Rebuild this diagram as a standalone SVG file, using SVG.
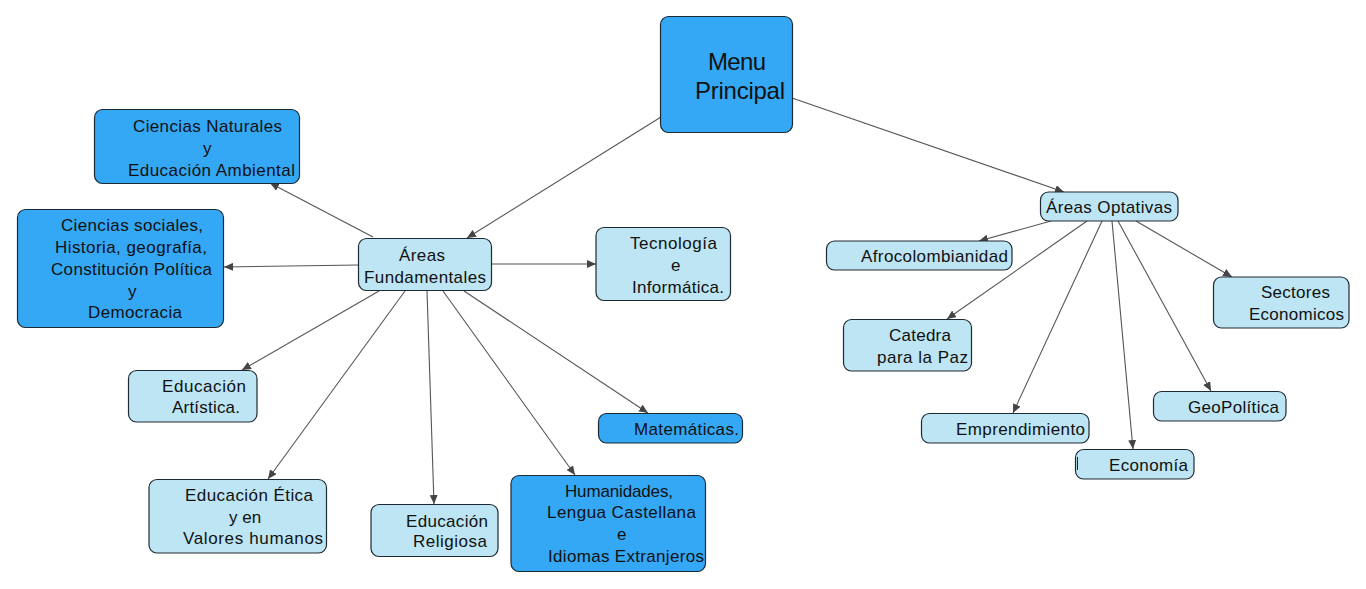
<svg xmlns="http://www.w3.org/2000/svg" width="1366" height="589" viewBox="0 0 1366 589">
<style>
.dk{fill:#34a7f5;stroke:#1e2a33;stroke-width:1.2}
.lt{fill:#bee5f3;stroke:#1e2a33;stroke-width:1.2}
text{font-family:"Liberation Sans",Arial,sans-serif;font-size:17px;fill:#111}
.big{font-size:24px}
.cn line{stroke:#555;stroke-width:1.1;marker-end:url(#ah)}
</style>
<defs>
<marker id="ah" markerUnits="userSpaceOnUse" markerWidth="10" markerHeight="8" refX="9" refY="4" orient="auto">
<path d="M0,0 L9,4 L0,8 z" fill="#444"/>
</marker>
</defs>
<rect width="1366" height="589" fill="#fff"/>
<g id="connectors" class="cn">
<line x1="661" y1="117" x2="467" y2="238"/>
<line x1="792" y1="98" x2="1064" y2="192"/>
<line x1="373" y1="237" x2="270" y2="183"/>
<line x1="358" y1="265" x2="224" y2="267"/>
<line x1="492" y1="264" x2="596" y2="264"/>
<line x1="379" y1="291" x2="242" y2="370"/>
<line x1="405" y1="291" x2="268" y2="479"/>
<line x1="427" y1="291" x2="434" y2="504"/>
<line x1="443" y1="291" x2="575" y2="475"/>
<line x1="464" y1="291" x2="648" y2="413"/>
<line x1="1051" y1="221" x2="979" y2="241"/>
<line x1="1087" y1="221" x2="947" y2="319"/>
<line x1="1102" y1="221" x2="1013" y2="413"/>
<line x1="1112" y1="221" x2="1133" y2="449"/>
<line x1="1118" y1="221" x2="1211" y2="391"/>
<line x1="1136" y1="221" x2="1232" y2="277"/>
</g>
<g id="menu">
<rect class="dk" x="660.5" y="16.5" width="132" height="116" rx="8"/>
<text class="big" x="708" y="70" textLength="58">Menu</text>
<text class="big" x="695" y="99" textLength="90">Principal</text>
</g>
<g id="naturales">
<rect class="dk" x="94.5" y="109.5" width="205" height="74" rx="8"/>
<text x="133" y="132" textLength="149">Ciencias Naturales</text>
<text x="203" y="154">y</text>
<text x="128" y="176" textLength="167">Educación Ambiental</text>
</g>
<g id="sociales">
<rect class="dk" x="17.5" y="209.5" width="206" height="118" rx="8"/>
<text x="61" y="231" textLength="142">Ciencias sociales,</text>
<text x="55" y="253" textLength="152">Historia, geografía,</text>
<text x="51" y="275" textLength="161">Constitución Política</text>
<text x="128" y="297">y</text>
<text x="88" y="318" textLength="94">Democracia</text>
</g>
<g id="fundamentales">
<rect class="lt" x="358.5" y="238.5" width="133" height="52" rx="8"/>
<text x="399" y="261" textLength="46">Áreas</text>
<text x="364" y="283" textLength="122">Fundamentales</text>
</g>
<g id="tecnologia">
<rect class="lt" x="596" y="227.5" width="134.5" height="73" rx="8"/>
<text x="630" y="249" textLength="87">Tecnología</text>
<text x="671" y="271">e</text>
<text x="632" y="293" textLength="92">Informática.</text>
</g>
<g id="artistica">
<rect class="lt" x="128.5" y="370.5" width="128.5" height="51.5" rx="8"/>
<text x="162" y="392" textLength="84">Educación</text>
<text x="172" y="413" textLength="68">Artística.</text>
</g>
<g id="matematicas">
<rect class="dk" x="598.5" y="413.5" width="144" height="29.5" rx="8"/>
<text x="634" y="435" textLength="105">Matemáticas.</text>
</g>
<g id="etica">
<rect class="lt" x="149" y="479.5" width="177.5" height="73.5" rx="8"/>
<text x="185" y="501" textLength="128">Educación Ética</text>
<text x="229" y="523">y en</text>
<text x="183" y="544" textLength="140">Valores humanos</text>
</g>
<g id="religiosa">
<rect class="lt" x="371" y="504.5" width="127" height="52" rx="8"/>
<text x="406" y="527" textLength="82">Educación</text>
<text x="413" y="547" textLength="74">Religiosa</text>
</g>
<g id="humanidades">
<rect class="dk" x="511" y="475.5" width="194.5" height="96" rx="8"/>
<text x="565" y="497" textLength="108">Humanidades,</text>
<text x="547" y="518" textLength="149">Lengua Castellana</text>
<text x="617" y="540">e</text>
<text x="548" y="562" textLength="156">Idiomas Extranjeros</text>
</g>
<g id="optativas">
<rect class="lt" x="1040.5" y="192" width="137.5" height="29" rx="8"/>
<text x="1046" y="213" textLength="126">Áreas Optativas</text>
</g>
<g id="afro">
<rect class="lt" x="826.5" y="241" width="185.5" height="29" rx="8"/>
<text x="861" y="262" textLength="147">Afrocolombianidad</text>
</g>
<g id="catedra">
<rect class="lt" x="843.5" y="319.5" width="128" height="51.5" rx="8"/>
<text x="889" y="341" textLength="62">Catedra</text>
<text x="877" y="363" textLength="91">para la Paz</text>
</g>
<g id="sectores">
<rect class="lt" x="1213.5" y="277" width="135.5" height="51" rx="8"/>
<text x="1261" y="298" textLength="69">Sectores</text>
<text x="1249" y="320" textLength="95">Economicos</text>
</g>
<g id="emprendimiento">
<rect class="lt" x="921.5" y="413.5" width="167.5" height="29.5" rx="8"/>
<text x="956" y="435" textLength="129">Emprendimiento</text>
</g>
<g id="geopolitica">
<rect class="lt" x="1153.5" y="391.5" width="132.5" height="29.5" rx="8"/>
<text x="1188" y="413" textLength="91">GeoPolítica</text>
</g>
<g id="economia">
<rect class="lt" x="1075.5" y="449.5" width="118.5" height="29.5" rx="8"/>
<line x1="1077.5" y1="457" x2="1077.5" y2="470" stroke="#222" stroke-width="1"/>
<text x="1109" y="471" textLength="79">Economía</text>
</g>
</svg>
